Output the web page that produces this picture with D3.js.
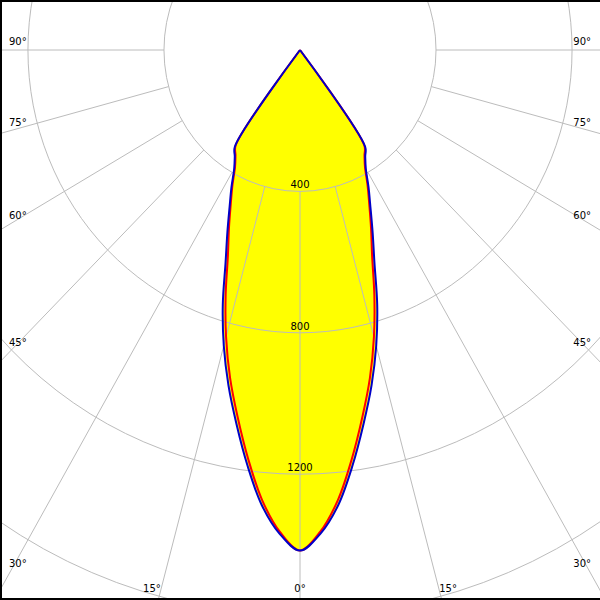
<!DOCTYPE html>
<html><head><meta charset="utf-8">
<script src="https://cdn.jsdelivr.net/npm/d3@7"></script>
<style>html,body{margin:0;padding:0;background:#fff}svg{display:block}</style>
</head><body>
<svg id="chart" width="600" height="600"></svg>
<script>
// Data
const gammaAngles = [0, 2.5, 5, 7.5, 10, 12.5, 15, 17.5, 20, 22.5, 25, 27.5, 30, 32.5, 35, 37.5];
const planeC90 = [1416, 1370, 1292, 1185, 1075, 972, 866, 755, 640, 558, 490, 436, 387, 357, 334, 0];
const planeC0  = [1416, 1364, 1278, 1167, 1055, 950, 840, 727, 620, 546, 482, 430, 382, 353, 330, 0];
const radiusTicks = [400, 800, 1200, 1600];
const radiusTickLabels = ["400", "800", "1200", "1600"];
const angleTicks = [-90, -75, -60, -45, -30, -15, 0, 15, 30, 45, 60, 75, 90];
const angleTickLabels = ["90°","75°","60°","45°","30°","15°","0°","15°","30°","45°","60°","75°","90°"];

const W = 600, H = 600, cx = 300, cy = 50;
const k = 0.3535, aspect = 0.962;
const ry = d3.scaleLinear().domain([0, 1600]).range([0, 1600 * k]);
const rx = d3.scaleLinear().domain([0, 1600]).range([0, 1600 * k * aspect]);
const rad = d => d * Math.PI / 180;
const pt = (deg, v) => [cx + rx(v) * Math.sin(rad(deg)), cy + ry(v) * Math.cos(rad(deg))];

const svg = d3.select("#chart");
svg.append("defs").append("clipPath").attr("id", "clip")
  .append("rect").attr("width", W).attr("height", H);
const g = svg.append("g").attr("clip-path", "url(#clip)");

function curvePoints(vals) {
  const left = gammaAngles.map((a, i) => pt(-a, vals[i])).reverse();
  const right = gammaAngles.slice(1).map((a, i) => pt(a, vals[i + 1]));
  return left.concat(right);
}
const line = d3.line().curve(d3.curveCatmullRom.alpha(0.5));

// fill
[planeC90, planeC0].forEach(vals => {
  g.append("path").attr("d", line(curvePoints(vals)) + "Z")
    .attr("fill", "#ffff00").attr("stroke", "none");
});

// grid ellipses
const grid = g.append("g").attr("fill", "none").attr("stroke", "#bcbcbc").attr("stroke-width", 1);
radiusTicks.forEach(t => {
  grid.append("ellipse").attr("cx", cx).attr("cy", cy).attr("rx", rx(t)).attr("ry", ry(t));
});
// radial lines
angleTicks.forEach(a => {
  const p0 = pt(a, radiusTicks[0]), p1 = pt(a, 4000);
  grid.append("line").attr("x1", p0[0]).attr("y1", p0[1]).attr("x2", p1[0]).attr("y2", p1[1]);
});

// curves
g.append("path").attr("d", line(curvePoints(planeC0)))
  .attr("fill", "none").attr("stroke", "#ff0000").attr("stroke-width", 2).attr("stroke-linejoin", "round");
g.append("path").attr("d", line(curvePoints(planeC90)))
  .attr("fill", "none").attr("stroke", "#0000c8").attr("stroke-width", 2).attr("stroke-linejoin", "round");

// labels
const font = "DejaVu Sans";
const labels = svg.append("g").attr("font-family", font).attr("font-size", 10).attr("fill", "#000");
radiusTicks.forEach((t, i) => {
  const y = cy + ry(t) - 3;
  if (y < H - 5) labels.append("text").attr("x", cx).attr("y", y).attr("text-anchor", "middle").text(radiusTickLabels[i]);
});
angleTicks.forEach((a, i) => {
  const abs = Math.abs(a);
  if (abs >= 30) {
    const y = cy + 290 * (ry(1) / rx(1)) * Math.cos(rad(abs)) / Math.sin(rad(abs)) - 5;
    labels.append("text").attr("x", a < 0 ? 9 : 591).attr("y", y)
      .attr("text-anchor", a < 0 ? "start" : "end").text(angleTickLabels[i]);
  } else {
    const dx = 540 * (rx(1) / ry(1)) * Math.tan(rad(abs));
    const x = a < 0 ? cx - dx : cx + dx;
    labels.append("text").attr("x", x).attr("y", 592)
      .attr("text-anchor", a === 0 ? "middle" : (a < 0 ? "end" : "start")).text(angleTickLabels[i]);
  }
});

// frame
svg.append("path").attr("d", "M1,600 L1,1 L600,1").attr("fill", "none").attr("stroke", "#000").attr("stroke-width", 2);
svg.append("line").attr("x1", 0).attr("x2", 600).attr("y1", 599).attr("y2", 599).attr("stroke", "#000").attr("stroke-width", 2);
</script>
</body></html>
